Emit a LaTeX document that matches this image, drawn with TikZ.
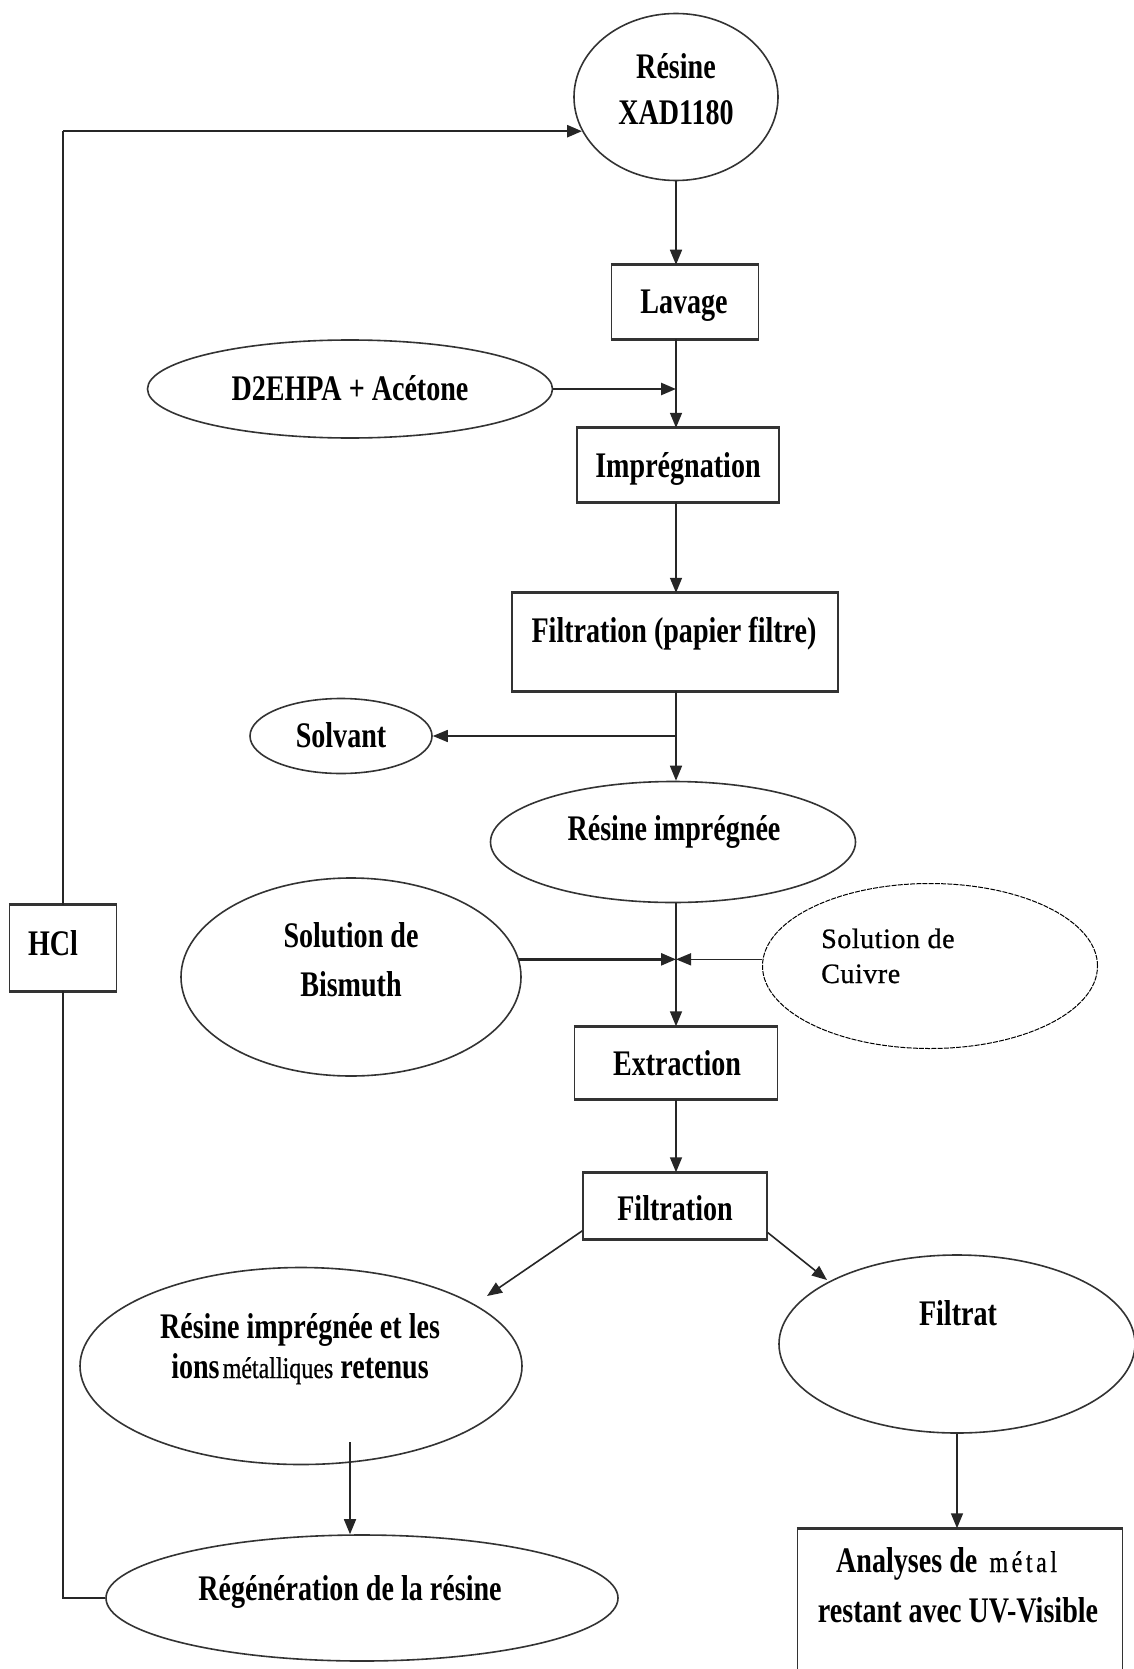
\documentclass[tikz,border=0pt]{standalone}
\usepackage{fontspec}
\setmainfont{Liberation Serif}
\newfontfamily\lblfont{Liberation Serif}[FakeStretch=0.78]
\newfontfamily\regfont{Liberation Serif}[LetterSpace=2,FakeBold=0.8]
\newfontfamily\smfont{Liberation Serif}[FakeStretch=0.8,FakeBold=0.6]
\newfontfamily\smwfont{Liberation Serif}[FakeStretch=0.8,FakeBold=0.6,LetterSpace=12]
\usetikzlibrary{shapes.geometric,arrows.meta}
\newcommand{\mtl}[1]{{\smfont\mdseries\fontsize{30}{36}\selectfont #1}}
\newcommand{\mtlw}[1]{{\smwfont\mdseries\fontsize{30}{36}\selectfont #1}}
\begin{document}
\begin{tikzpicture}[x=1pt,y=-1pt,
  ell/.style={ellipse, draw=black!80, line width=1.6pt, inner sep=0pt},
  dell/.style={ellipse, draw=black, line width=1pt, dash pattern=on 5pt off 1.2pt, inner sep=0pt},
  procbox/.style={rectangle, draw=black!80, line width=1.5pt, inner sep=0pt,
     append after command={(\tikzlastnode.north west) edge[draw=black!80, line width=3pt] (\tikzlastnode.north east)
       (\tikzlastnode.south west) edge[draw=black!80, line width=3pt] (\tikzlastnode.south east)}},
  lbl/.style={font=\lblfont\bfseries\fontsize{36}{46}\selectfont, anchor=base, inner sep=0pt},
  clbl/.style={font=\regfont\fontsize{28}{34}\selectfont, anchor=base west, inner sep=0pt},
  conn/.style={draw=black!85, line width=1.6pt},
  tconn/.style={draw=black!85, line width=2.6pt},
  arr/.style={-{Triangle[length=15pt,width=12pt]}},
]
\useasboundingbox (0,0) rectangle (1134,1669);
\clip (0,0) rectangle (1134,1669);
\fill[white] (0,0) rectangle (1134,1669);

% shapes
\node[ell, minimum width=204pt, minimum height=167pt] (xad) at (676,97) {};
\node[procbox, minimum width=147pt, minimum height=73pt] (lav) at (685,302) {};
\node[ell, minimum width=405pt, minimum height=98pt] (d2) at (350,389) {};
\node[procbox, minimum width=202pt, minimum height=73pt] (imp) at (678,465) {};
\node[procbox, minimum width=326pt, minimum height=97pt] (filp) at (675,642) {};
\node[ell, minimum width=182pt, minimum height=75pt] (solv) at (341,736) {};
\node[ell, minimum width=365pt, minimum height=121pt] (resimp) at (673,842) {};
\node[ell, minimum width=340pt, minimum height=198pt] (bis) at (351,977) {};
\node[dell, minimum width=335pt, minimum height=165pt] (cui) at (930,966) {};
\node[procbox, minimum width=107pt, minimum height=85pt] (hcl) at (63,948) {};
\node[procbox, minimum width=203pt, minimum height=72pt] (ext) at (676,1063) {};
\node[procbox, minimum width=184pt, minimum height=66pt] (filt) at (675,1206) {};
\node[ell, minimum width=442pt, minimum height=197pt] (ret) at (301,1366) {};
\node[ell, minimum width=356pt, minimum height=178pt] (filtrat) at (957,1344) {};
\node[ell, minimum width=512pt, minimum height=126pt] (regen) at (362,1598) {};
\node[procbox, minimum width=325pt, minimum height=170pt] (ana) at (960,1614) {};

% texts
\node[lbl] (t1) at (676,79) {Résine};
\node[lbl] (t2) at (676,125) {XAD1180};
\node[lbl] (t3) at (684,314) {Lavage};
\node[lbl] (t4) at (350,400) {D2EHPA + Acétone};
\node[lbl] (t5) at (678,477) {Imprégnation};
\node[lbl] (t6) at (674,642) {Filtration (papier filtre)};
\node[lbl] (t7) at (341,747) {Solvant};
\node[lbl] (t8) at (674,840) {Résine imprégnée};
\node[lbl] (t9) at (351,947) {Solution de};
\node[lbl] (t10) at (351,996) {Bismuth};
\node[clbl] (t11) at (821,948) {Solution de};
\node[clbl] (t12) at (821,983) {Cuivre};
\node[lbl] (t13) at (53,955) {HCl};
\node[lbl] (t14) at (677,1075) {Extraction};
\node[lbl] (t15) at (675,1220) {Filtration};
\node[lbl] (t16) at (300,1338) {Résine imprégnée et les};
\node[lbl] (t17) at (300,1378) {ions\hspace{3pt}\mtl{métalliques} retenus};
\node[lbl] (t18) at (958,1325) {Filtrat};
\node[lbl] (t19) at (350,1600) {Régénération de la résine};
\node[lbl, anchor=base west] (t20) at (836,1572) {Analyses de\hspace{12pt}\mtlw{métal}};
\node[lbl] (t21) at (958,1622) {restant avec UV-Visible};

% connectors
\coordinate (retin) at (487,1296);
\coordinate (filtin) at (827,1280);
\coordinate (retout) at (350,1442);

\draw[conn] (hcl.north) -- (hcl.north |- xad.200);
\draw[tconn, arr] (hcl.north |- xad.200) -- (xad.200);
\draw[conn] (regen.west) -| (hcl.south);
\draw[conn, arr] (xad.south) -- (xad.south |- lav.north);
\draw[conn, arr] (xad.south |- lav.south) -- (xad.south |- imp.north);
\draw[tconn, arr] (d2.east) -- (d2.east -| xad.south);
\draw[conn, arr] (xad.south |- imp.south) -- (xad.south |- filp.north);
\draw[conn, arr] (xad.south |- filp.south) -- (xad.south |- resimp.north);
\draw[conn, arr] (xad.south |- solv.east) -- (solv.east);
\draw[conn, arr] (xad.south |- resimp.south) -- (xad.south |- ext.north);
\draw[tconn, arr] (bis.6) -- (bis.6 -| xad.south);
\draw[conn, arr] (cui.west |- bis.6) -- (bis.6 -| xad.south);
\draw[conn, arr] (xad.south |- ext.south) -- (xad.south |- filt.north);
\draw[conn, arr] (filt.195) -- (retin);
\draw[conn, arr] (filt.344) -- (filtin);
\draw[conn, arr] (retout) -- (retout |- regen.north);
\draw[conn, arr] (filtrat.south) -- (filtrat.south |- ana.north);
\end{tikzpicture}
\end{document}
